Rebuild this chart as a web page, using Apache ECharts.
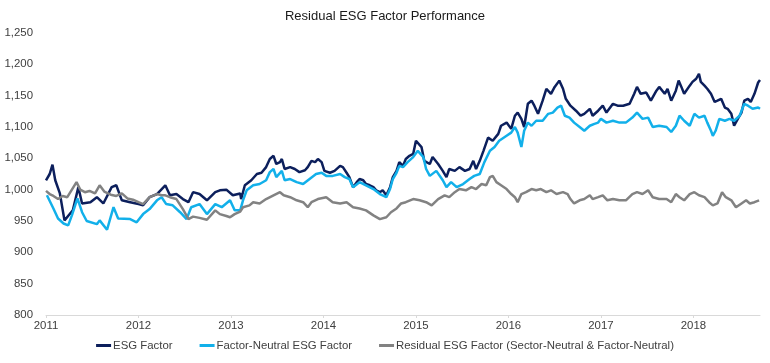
<!DOCTYPE html>
<html>
<head>
<meta charset="utf-8">
<script src="https://cdn.jsdelivr.net/npm/echarts@6/dist/echarts.min.js"></script>
<style>html,body{margin:0;padding:0;background:#fff}#c{width:770px;height:363px}</style>
</head>
<body>
<div id="c"></div>
<script>
// time in decimal years, values index level
const yTicks = [800, 850, 900, 950, 1000, 1050, 1100, 1150, 1200, 1250];
const xYears = [2011, 2012, 2013, 2014, 2015, 2016, 2017, 2018];
const seriesNames = ['ESG Factor', 'Factor-Neutral ESG Factor', 'Residual ESG Factor (Sector-Neutral & Factor-Neutral)'];

const esgTime = [2011.00,2011.04,2011.07,2011.10,2011.15,2011.20,2011.25,2011.29,2011.35,2011.39,2011.48,2011.55,2011.62,2011.71,2011.76,2011.82,2011.91,2012.00,2012.05,2012.12,2012.20,2012.29,2012.34,2012.41,2012.48,2012.54,2012.59,2012.66,2012.74,2012.83,2012.88,2012.95,2013.02,2013.10,2013.11,2013.15,2013.22,2013.28,2013.33,2013.38,2013.42,2013.46,2013.49,2013.53,2013.55,2013.58,2013.64,2013.69,2013.74,2013.80,2013.83,2013.87,2013.91,2013.94,2013.98,2014.01,2014.07,2014.12,2014.18,2014.21,2014.25,2014.28,2014.32,2014.36,2014.39,2014.43,2014.46,2014.50,2014.54,2014.57,2014.61,2014.64,2014.68,2014.72,2014.75,2014.79,2014.82,2014.86,2014.89,2014.93,2014.97,2015.00,2015.06,2015.09,2015.15,2015.18,2015.24,2015.29,2015.33,2015.36,2015.42,2015.47,2015.53,2015.58,2015.62,2015.65,2015.69,2015.73,2015.78,2015.83,2015.89,2015.92,2015.98,2016.03,2016.07,2016.10,2016.14,2016.17,2016.21,2016.25,2016.28,2016.32,2016.37,2016.41,2016.46,2016.50,2016.55,2016.59,2016.62,2016.67,2016.73,2016.78,2016.82,2016.88,2016.91,2016.97,2017.02,2017.06,2017.13,2017.18,2017.24,2017.31,2017.36,2017.39,2017.43,2017.49,2017.54,2017.60,2017.63,2017.69,2017.72,2017.76,2017.81,2017.84,2017.87,2017.90,2017.96,2017.99,2018.03,2018.06,2018.08,2018.12,2018.15,2018.19,2018.23,2018.26,2018.30,2018.34,2018.37,2018.41,2018.44,2018.48,2018.52,2018.55,2018.59,2018.62,2018.66,2018.70,2018.72];
const esgValues = [1015,1025,1040,1015,994,951,960,967,1004,978,980,988,978,1004,1007,983,980,977,975,988,993,1007,991,993,985,980,996,993,983,996,999,1000,991,994,985,1007,1015,1025,1027,1036,1049,1054,1041,1044,1049,1033,1036,1033,1028,1031,1036,1046,1044,1049,1044,1030,1027,1030,1038,1036,1027,1020,1004,1012,1017,1015,1009,1007,1004,999,996,999,991,1004,1020,1030,1044,1038,1049,1054,1057,1078,1068,1046,1041,1052,1041,1030,1020,1033,1030,1036,1030,1033,1046,1033,1046,1062,1083,1078,1089,1102,1107,1097,1118,1123,1113,1100,1137,1142,1134,1121,1142,1161,1153,1164,1174,1161,1145,1134,1126,1118,1121,1129,1118,1126,1134,1123,1137,1134,1134,1137,1153,1164,1153,1155,1142,1158,1164,1153,1161,1142,1158,1174,1164,1153,1166,1172,1177,1185,1172,1166,1161,1153,1140,1142,1145,1131,1129,1121,1102,1113,1123,1142,1145,1140,1153,1171,1175];

const fnTime = [2011.01,2011.08,2011.13,2011.19,2011.24,2011.28,2011.34,2011.39,2011.44,2011.55,2011.58,2011.66,2011.73,2011.78,2011.91,2011.98,2012.05,2012.12,2012.20,2012.25,2012.30,2012.37,2012.45,2012.52,2012.57,2012.66,2012.74,2012.83,2012.90,2012.99,2013.04,2013.10,2013.13,2013.17,2013.24,2013.31,2013.38,2013.42,2013.46,2013.49,2013.55,2013.58,2013.64,2013.71,2013.78,2013.85,2013.92,2013.98,2014.03,2014.10,2014.18,2014.23,2014.28,2014.32,2014.39,2014.46,2014.54,2014.61,2014.68,2014.72,2014.75,2014.79,2014.82,2014.86,2014.91,2014.97,2015.02,2015.04,2015.08,2015.11,2015.15,2015.22,2015.29,2015.33,2015.38,2015.44,2015.51,2015.58,2015.63,2015.69,2015.74,2015.80,2015.85,2015.90,2015.98,2016.03,2016.07,2016.10,2016.14,2016.17,2016.21,2016.25,2016.30,2016.37,2016.43,2016.48,2016.53,2016.57,2016.61,2016.66,2016.71,2016.77,2016.82,2016.88,2016.93,2016.97,2017.00,2017.06,2017.13,2017.20,2017.27,2017.34,2017.39,2017.45,2017.51,2017.56,2017.63,2017.71,2017.76,2017.81,2017.85,2017.90,2017.96,2018.01,2018.06,2018.12,2018.15,2018.19,2018.21,2018.24,2018.28,2018.34,2018.39,2018.44,2018.50,2018.55,2018.59,2018.64,2018.70,2018.72];
const fnValues = [991,970,954,946,943,959,986,964,950,945,951,936,972,954,953,948,961,969,983,988,977,975,964,953,972,977,961,977,972,983,967,967,983,999,1007,1009,1015,1028,1033,1020,1030,1015,1017,1012,1009,1017,1025,1027,1022,1022,1025,1020,1017,1004,1012,1007,1001,993,988,1001,1017,1027,1038,1036,1044,1052,1062,1060,1052,1033,1022,1030,1015,1004,1012,1004,1009,1017,1022,1025,1044,1062,1068,1078,1086,1091,1100,1091,1068,1094,1107,1102,1110,1110,1121,1123,1131,1134,1118,1115,1107,1100,1094,1102,1105,1107,1113,1107,1110,1107,1107,1115,1123,1113,1115,1100,1102,1100,1092,1102,1118,1110,1102,1121,1115,1118,1107,1094,1086,1094,1113,1110,1113,1110,1118,1137,1134,1129,1131,1129];

const resTime = [2011.00,2011.04,2011.08,2011.13,2011.18,2011.23,2011.28,2011.33,2011.37,2011.42,2011.47,2011.53,2011.58,2011.63,2011.70,2011.76,2011.82,2011.88,2011.94,2012.00,2012.05,2012.12,2012.20,2012.25,2012.29,2012.34,2012.41,2012.48,2012.54,2012.59,2012.66,2012.74,2012.83,2012.88,2012.95,2012.99,2013.04,2013.10,2013.13,2013.20,2013.24,2013.31,2013.38,2013.46,2013.53,2013.57,2013.64,2013.71,2013.78,2013.83,2013.87,2013.94,2014.03,2014.10,2014.18,2014.25,2014.32,2014.39,2014.46,2014.54,2014.61,2014.68,2014.73,2014.79,2014.84,2014.89,2014.97,2015.04,2015.11,2015.17,2015.24,2015.31,2015.36,2015.42,2015.47,2015.54,2015.60,2015.65,2015.71,2015.76,2015.80,2015.83,2015.87,2015.92,2015.98,2016.03,2016.07,2016.10,2016.14,2016.19,2016.25,2016.30,2016.35,2016.41,2016.46,2016.52,2016.59,2016.64,2016.67,2016.71,2016.77,2016.82,2016.88,2016.91,2016.97,2017.02,2017.07,2017.13,2017.20,2017.27,2017.34,2017.39,2017.45,2017.51,2017.56,2017.63,2017.71,2017.76,2017.81,2017.85,2017.90,2017.96,2018.01,2018.06,2018.12,2018.17,2018.21,2018.26,2018.31,2018.35,2018.41,2018.46,2018.52,2018.57,2018.61,2018.66,2018.71];
const resValues = [998,993,990,985,990,988,1000,1012,1000,996,998,994,1007,997,992,990,994,986,984,980,977,988,993,991,991,988,985,969,953,957,955,952,967,961,958,956,961,965,972,975,980,978,985,991,996,991,988,983,980,972,980,985,988,980,978,980,972,970,967,959,953,956,964,970,978,980,985,983,980,975,985,991,988,996,1001,999,1004,1001,1009,1007,1020,1022,1012,1007,1001,993,988,980,993,996,1001,999,1001,996,999,993,996,993,985,978,983,985,991,985,988,991,983,985,983,983,993,996,993,999,988,985,985,980,993,988,983,993,996,991,988,980,975,978,996,988,983,972,978,983,978,980,983];

function pairs(t, v) { return t.map((x, i) => [x, v[i]]); }
const colors = ['#0c1f5c', '#12b0ea', '#828282'];
const chart = echarts.init(document.getElementById('c'), null, { renderer: 'canvas' });
const font = 'Liberation Sans, Arial, sans-serif';
chart.setOption({
  animation: false,
  color: colors,
  title: {
    text: 'Residual ESG Factor Performance',
    left: 'center', top: 5,
    textStyle: { fontFamily: font, fontSize: 13, fontWeight: 'normal', color: '#1a1a1a' }
  },
  legend: {
    bottom: 7, left: 'center',
    icon: 'rect', itemWidth: 15, itemHeight: 3, itemGap: 27,
    textStyle: { fontFamily: font, fontSize: 11.4, color: '#404040', padding: [0, 0, 0, -3] },
    data: seriesNames
  },
  grid: { left: 46, right: 10, top: 33, bottom: 48, containLabel: false },
  xAxis: {
    type: 'value', min: xYears[0], max: 2018.72, interval: 1,
    splitLine: { show: false },
    axisLine: { show: true, lineStyle: { color: '#d9d9d9', width: 1 } },
    axisTick: { show: true, length: 3, lineStyle: { color: '#d9d9d9' } },
    axisLabel: {
      fontFamily: font, fontSize: 11.4, color: '#404040', margin: 5, showMaxLabel: false,
      formatter: v => (xYears.indexOf(Math.round(v * 1000) / 1000) >= 0 ? String(v) : '')
    }
  },
  yAxis: {
    type: 'value', min: yTicks[0], max: yTicks[yTicks.length - 1], interval: 50,
    splitLine: { show: false },
    axisLine: { show: false }, axisTick: { show: false },
    axisLabel: {
      fontFamily: font, fontSize: 11.4, color: '#404040', margin: 13,
      formatter: v => v.toLocaleString('en-US')
    }
  },
  series: [
    { name: seriesNames[0], type: 'line', data: pairs(esgTime, esgValues), showSymbol: false, lineStyle: { width: 2.5 } },
    { name: seriesNames[1], type: 'line', data: pairs(fnTime, fnValues), showSymbol: false, lineStyle: { width: 2.5 } },
    { name: seriesNames[2], type: 'line', data: pairs(resTime, resValues), showSymbol: false, lineStyle: { width: 2.5 } }
  ]
});
</script>
</body>
</html>
